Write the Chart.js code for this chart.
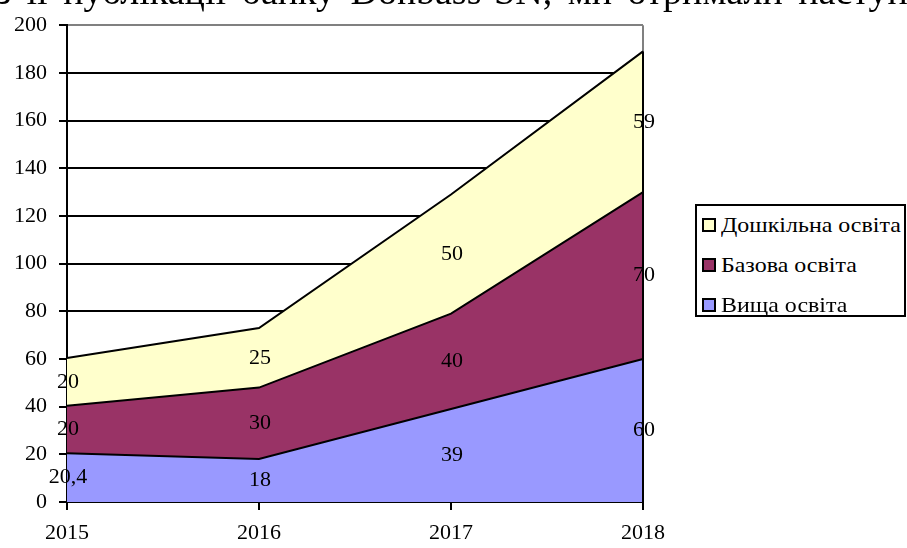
<!DOCTYPE html>
<html><head><meta charset="utf-8">
<script src="https://cdn.jsdelivr.net/npm/chart.js@4"></script>
<style>
html,body{margin:0;padding:0;background:#fff;overflow:hidden;}
#wrap{position:relative;width:907px;height:548px;overflow:hidden;}
#top{position:absolute;left:-4px;top:-28px;font:38px "Liberation Serif",serif;line-height:38px;white-space:nowrap;color:#000;word-spacing:6px;}
#legend{position:absolute;left:695px;top:204px;width:211px;height:113px;border:2px solid #000;background:#fff;font:21px "Liberation Serif",serif;color:#000;box-sizing:border-box;}
.li{position:absolute;left:5px;display:flex;align-items:center;height:30px;white-space:nowrap;}
.sw{width:10px;height:10px;border:2px solid #000;margin-right:5px;flex:none;}
.tx{display:inline-block;transform:scaleX(1.14);transform-origin:left center;}
</style></head>
<body><div id="wrap">
<canvas id="c" width="907" height="548"></canvas>
<div id="top">з її публікації банку Donbass-SN, ми отримали наступні</div>
<div id="legend"></div>
</div>
<script>
const years = ['2015','2016','2017','2018'];
const seriesNames = ['Вища освіта','Базова освіта','Дошкільна освіта'];
const vyshcha = [20.4, 18, 39, 60];
const bazova = [20, 30, 40, 70];
const doshkilna = [20, 25, 50, 59];
const valueLabels = [['20,4','18','39','60'],['20','30','40','70'],['20','25','50','59']];
const colors = ['#9999FF','#993366','#FFFFCC'];

const lg = document.getElementById('legend');
[2,1,0].forEach((i,k)=>{
  const d=document.createElement('div');d.className='li';
  d.style.top=(4+k*40)+'px';
  d.innerHTML='<span class="sw" style="background:'+colors[i]+'"></span><span class="tx">'+seriesNames[i]+'</span>';
  lg.appendChild(d);
});

const labelPlugin = {
  id:'vals',
  afterDatasetsDraw(chart){
    const ctx=chart.ctx, xs=chart.scales.x, ys=chart.scales.y;
    ctx.save();
    ctx.font='22px "Liberation Serif", serif';
    ctx.fillStyle='#000';ctx.textAlign='center';ctx.textBaseline='middle';
    const data=[vyshcha,bazova,doshkilna];
    for(let j=0;j<years.length;j++){
      let base=0;
      for(let i=0;i<3;i++){
        const v=data[i][j];
        const mid=base+v/2;
        ctx.fillText(valueLabels[i][j], xs.getPixelForValue(j)+1, ys.getPixelForValue(mid));
        base+=v;
      }
    }
    let tot=0;for(let i=0;i<3;i++)tot+=data[i][3];
    ctx.strokeStyle='#000';ctx.lineWidth=2;ctx.beginPath();
    const x=xs.getPixelForValue(3);
    ctx.moveTo(x,ys.getPixelForValue(0)+8);ctx.lineTo(x,ys.getPixelForValue(tot));ctx.stroke();
    ctx.restore();
  }
};

new Chart(document.getElementById('c'),{
  type:'line',
  data:{labels:years,datasets:[
    {label:seriesNames[0],data:vyshcha,backgroundColor:colors[0],borderColor:'#000',borderWidth:2,fill:'origin',pointRadius:0,tension:0},
    {label:seriesNames[1],data:bazova,backgroundColor:colors[1],borderColor:'#000',borderWidth:2,fill:'-1',pointRadius:0,tension:0},
    {label:seriesNames[2],data:doshkilna,backgroundColor:colors[2],borderColor:'#000',borderWidth:2,fill:'-1',pointRadius:0,tension:0}
  ]},
  options:{
    responsive:false,animation:false,
    layout:{padding:{top:22,right:264,left:0,bottom:0}},
    plugins:{legend:{display:false},tooltip:{enabled:false}},
    scales:{
      x:{offset:false,
        afterFit(s){s.height=46;},
        grid:{color:c=>c.index===3?'#808080':'rgba(0,0,0,0)',lineWidth:2,tickColor:'#000',tickLength:8,drawOnChartArea:true},
        border:{color:'#000',width:2},
        ticks:{color:'#000',font:{family:"'Liberation Serif', 'Times New Roman', serif",size:22},padding:10,maxRotation:0}
      },
      y:{stacked:true,min:0,max:200,
        afterFit(s){s.width=67;},
        grid:{color:c=>c.tick&&c.tick.value===200?'#808080':'#000',lineWidth:2,tickColor:'#000',tickLength:8},
        border:{color:'#000',width:2},
        ticks:{stepSize:20,color:'#000',font:{family:"'Liberation Serif', 'Times New Roman', serif",size:22},padding:12}
      }
    }
  },
  plugins:[labelPlugin]
});
</script>
</body></html>
